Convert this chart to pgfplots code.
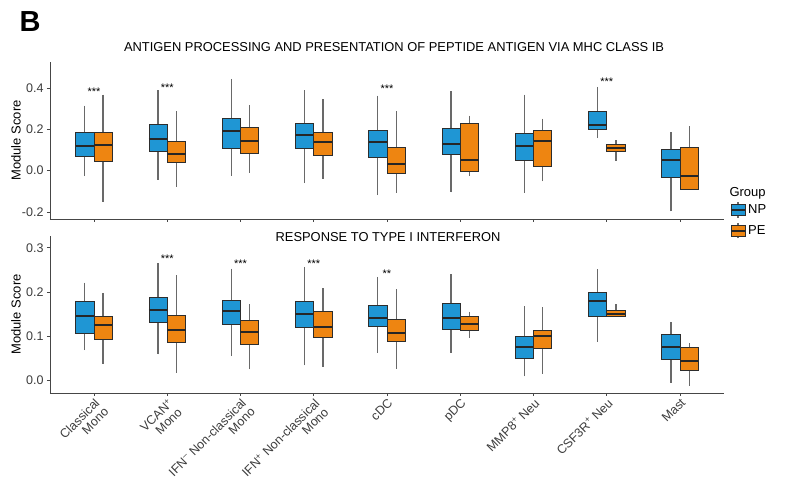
\documentclass[border=0pt]{standalone}
\usepackage{pgfplots}
\pgfplotsset{compat=1.18}
\usepgfplotslibrary{statistics}
\usepackage{fontspec}
\setmainfont{Liberation Sans}
\definecolor{npblue}{RGB}{31,150,212}
\definecolor{peorange}{RGB}{238,133,17}
\definecolor{boxedge}{RGB}{45,45,45}
\definecolor{axgray}{RGB}{70,70,70}
\definecolor{txtgray}{RGB}{60,60,60}
\definecolor{whisk}{RGB}{105,105,105}
\newcommand{\bx}[7]{\addplot[solid, mark=none, fill=#2, draw=boxedge, line width=0.7pt, boxplot prepared={draw position=#1, lower whisker=#3, lower quartile=#4, median=#5, upper quartile=#6, upper whisker=#7, box extend=0.25, whisker extend=0}, boxplot/every whisker/.style={draw=whisk, line width=1.3pt}, boxplot/every median/.style={draw=black!85, line width=2pt}] coordinates {};}
\pgfplotsset{
  myax/.style={
    scale only axis, width=674pt, height=157pt,
    xmin=0.4, xmax=9.6,
    xtick={1,2,3,4,5,6,7,8,9},
    boxplot/draw direction=y,
    axis x line*=bottom, axis y line*=left,
    axis line style={-, axgray, line width=0.9pt},
    tick style={axgray, line width=0.8pt},
    tick align=outside, major tick length=3pt,
    yticklabel style={font=\fontsize{12.5}{14}\selectfont, text=txtgray, /pgf/number format/fixed, /pgf/number format/fixed zerofill, /pgf/number format/precision=1, /pgf/number format/assume math mode=true},
    ylabel={Module Score},
    ylabel style={font=\fontsize{13}{15}\selectfont, text=black, at={(axis description cs:-0.0505,0.5)}, anchor=center},
  }
}
\begin{document}
\begin{tikzpicture}
\useasboundingbox (0pt,0pt) rectangle (785pt,479pt);
\node[font=\bfseries\fontsize{29}{32}\selectfont] at (30pt,457pt) {B};
\node[font=\fontsize{12.9}{15}\selectfont] at (394pt,432pt) {ANTIGEN PROCESSING AND PRESENTATION OF PEPTIDE ANTIGEN VIA MHC CLASS IB};
\node[font=\fontsize{12.9}{15}\selectfont] at (388pt,242pt) {RESPONSE TO TYPE I INTERFERON};
\node[font=\fontsize{13}{15}\selectfont, anchor=west] at (726pt,286pt) {Group};

% top panel
\begin{axis}[myax, at={(50pt,260pt)}, anchor=south west,
  ymin=-0.234, ymax=0.526, ytick={-0.2,0,0.2,0.4},
  xticklabel={\mbox{}},
  legend style={at={(rel axis cs:1.004,0.125)}, anchor=north west, draw=none, fill=none,
    font=\fontsize{13}{15}\selectfont, row sep=4pt},
  legend cell align=left]
\addlegendimage{legend image code/.code={
  \draw[whisk, line width=1.3pt] (0.25cm,-0.27cm) -- (0.25cm,0.27cm);
  \draw[fill=npblue, draw=boxedge, line width=0.7pt] (0cm,-0.2cm) rectangle (0.5cm,0.2cm);
  \draw[black!85, line width=2pt] (0cm,0cm) -- (0.5cm,0cm);}}
\addlegendentry{NP}
\addlegendimage{legend image code/.code={
  \draw[whisk, line width=1.3pt] (0.25cm,-0.27cm) -- (0.25cm,0.27cm);
  \draw[fill=peorange, draw=boxedge, line width=0.7pt] (0cm,-0.2cm) rectangle (0.5cm,0.2cm);
  \draw[black!85, line width=2pt] (0cm,0cm) -- (0.5cm,0cm);}}
\addlegendentry{PE}
\bx{0.875}{npblue}{-0.027}{0.069}{0.118}{0.187}{0.315}
\bx{1.125}{peorange}{-0.152}{0.045}{0.126}{0.187}{0.368}
\bx{1.875}{npblue}{-0.044}{0.094}{0.155}{0.226}{0.389}
\bx{2.125}{peorange}{-0.079}{0.042}{0.081}{0.142}{0.287}
\bx{2.875}{npblue}{-0.024}{0.106}{0.194}{0.255}{0.444}
\bx{3.125}{peorange}{-0.010}{0.082}{0.145}{0.211}{0.319}
\bx{3.875}{npblue}{-0.060}{0.106}{0.174}{0.231}{0.389}
\bx{4.125}{peorange}{-0.039}{0.074}{0.139}{0.185}{0.348}
\bx{4.875}{npblue}{-0.119}{0.065}{0.139}{0.195}{0.363}
\bx{5.125}{peorange}{-0.108}{-0.011}{0.032}{0.113}{0.287}
\bx{5.875}{npblue}{-0.105}{0.077}{0.129}{0.203}{0.384}
\bx{6.125}{peorange}{-0.027}{-0.003}{0.050}{0.227}{0.266}
\bx{6.875}{npblue}{-0.108}{0.048}{0.118}{0.179}{0.368}
\bx{7.125}{peorange}{-0.052}{0.021}{0.142}{0.194}{0.252}
\bx{7.875}{npblue}{0.158}{0.198}{0.223}{0.287}{0.405}
\bx{8.125}{peorange}{0.048}{0.094}{0.110}{0.129}{0.147}
\bx{8.875}{npblue}{-0.197}{-0.031}{0.050}{0.105}{0.187}
\bx{9.125}{peorange}{-0.092}{-0.089}{-0.024}{0.113}{0.215}
\node[font=\fontsize{11}{12}\selectfont, yshift=-2pt] at (axis cs:1,0.39) {***};
\node[font=\fontsize{11}{12}\selectfont, yshift=-2pt] at (axis cs:2,0.413) {***};
\node[font=\fontsize{11}{12}\selectfont, yshift=-2pt] at (axis cs:5,0.405) {***};
\node[font=\fontsize{11}{12}\selectfont, yshift=-2pt] at (axis cs:8,0.44) {***};
\end{axis}

% bottom panel
\begin{axis}[myax, at={(50pt,86pt)}, anchor=south west,
  ymin=-0.0295, ymax=0.327, ytick={0,0.1,0.2,0.3},
  xticklabels={{Classical\\Mono},{VCAN\textsuperscript{+}\\Mono},{IFN\textsuperscript{--} Non-classical\\Mono},{IFN\textsuperscript{+} Non-classical\\Mono},cDC,pDC,MMP8\textsuperscript{+} Neu,CSF3R\textsuperscript{+} Neu,Mast},
  xticklabel style={rotate=45, anchor=north east, align=right, font=\fontsize{12.5}{12.5}\selectfont, text=txtgray, inner sep=1pt}]
\bx{0.875}{npblue}{0.068}{0.106}{0.146}{0.179}{0.221}
\bx{1.125}{peorange}{0.036}{0.092}{0.124}{0.144}{0.198}
\bx{1.875}{npblue}{0.058}{0.131}{0.159}{0.187}{0.265}
\bx{2.125}{peorange}{0.017}{0.085}{0.113}{0.147}{0.238}
\bx{2.875}{npblue}{0.054}{0.127}{0.156}{0.181}{0.253}
\bx{3.125}{peorange}{0.024}{0.082}{0.108}{0.136}{0.172}
\bx{3.875}{npblue}{0.033}{0.119}{0.149}{0.178}{0.257}
\bx{4.125}{peorange}{0.030}{0.097}{0.121}{0.157}{0.209}
\bx{4.875}{npblue}{0.062}{0.121}{0.141}{0.170}{0.234}
\bx{5.125}{peorange}{0.026}{0.087}{0.106}{0.138}{0.206}
\bx{5.875}{npblue}{0.062}{0.116}{0.141}{0.174}{0.240}
\bx{6.125}{peorange}{0.096}{0.113}{0.128}{0.145}{0.155}
\bx{6.875}{npblue}{0.008}{0.049}{0.074}{0.098}{0.168}
\bx{7.125}{peorange}{0.014}{0.072}{0.100}{0.113}{0.165}
\bx{7.875}{npblue}{0.087}{0.145}{0.179}{0.200}{0.251}
\bx{8.125}{peorange}{0.145}{0.145}{0.151}{0.159}{0.172}
\bx{8.875}{npblue}{-0.006}{0.047}{0.076}{0.104}{0.132}
\bx{9.125}{peorange}{-0.013}{0.023}{0.044}{0.074}{0.083}
\node[font=\fontsize{11}{12}\selectfont, yshift=-2pt] at (axis cs:2,0.281) {***};
\node[font=\fontsize{11}{12}\selectfont, yshift=-2pt] at (axis cs:3,0.268) {***};
\node[font=\fontsize{11}{12}\selectfont, yshift=-2pt] at (axis cs:4,0.268) {***};
\node[font=\fontsize{11}{12}\selectfont, yshift=-2pt] at (axis cs:5,0.246) {**};
\end{axis}
\end{tikzpicture}
\end{document}
